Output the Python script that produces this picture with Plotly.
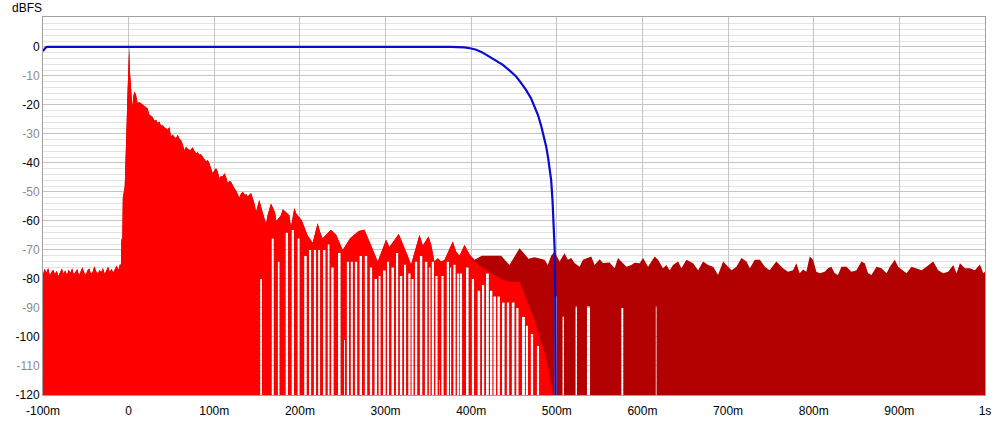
import plotly.graph_objects as go

# ---------------- data ----------------
# Impulse response level (dBFS) vs time (ms): upper envelope samples
ir_t = [-100, -98, -96, -94, -92, -90, -88, -86, -84, -82, -80, -78, -76, -74, -72, -70, -68, -66, -64, -62,
        -60, -58, -56, -54, -52, -50, -48, -46, -44, -42, -40, -38, -36, -34, -32, -30, -28, -26, -24, -22,
        -20, -18, -16, -14, -12, -10, -9, -8.5, -7.4, -6.8, -4.6, -4.0, -2.3, -1.5, -0.6, 0, 0.6, 1.4, 3.1, 4.3,
        5.5, 6.7, 8.6, 10.5, 12.5, 14.5, 16.4, 18.3, 20.3, 22.2, 24.2, 26, 28, 30, 32, 34, 35.9, 37.8, 39.8, 41.7,
        43.6, 45.5, 47.5, 49.5, 51.4, 53.4, 55.3, 57.3, 59.2, 61.2, 63.1, 65.1, 67, 69, 71.7, 73.2, 74.8, 76.7, 78.7, 80.6,
        82.6, 84.5, 86.5, 88.4, 90.4, 92.3, 94.3, 96.2, 98.2, 100.1, 102.1, 104, 106, 107.9, 109.9, 111.8, 113.8, 115.7, 117.6, 119.6,
        121.5, 123.5, 125.4, 127.4, 129.3, 131.2, 133.2, 135.9, 137.5, 139, 141, 143, 145, 146.9, 148.8, 150.7, 152.5, 154.6, 156.5, 158.5,
        160.4, 162.3, 164.3, 166.2, 168.2, 170.9, 172.5, 174, 176, 177.9, 180, 183.7, 185.6, 187.6, 189.6, 191.5, 193.5, 195.8, 198.1, 202,
        205.1, 207.1, 209, 211, 214.9, 217.6, 220.7, 223.8, 226.5, 229.7, 232.4, 234.5, 236.3, 238.4, 242.3, 246.1, 250, 252, 255.9, 258.6,
        261.7, 265.6, 268.7, 272.2, 275.3, 278, 281.1, 284.3, 287, 290.9, 294.8, 297.9, 300.6, 304.5, 308.4, 312.3, 315.4, 318.1, 322, 325.9,
        329.8, 333.7, 336.8, 339.6, 343.5, 347.4, 350.1, 353.2, 357.1, 361, 364.9, 368.8, 372.7, 375.5, 378.5, 382.4, 386.3, 389, 392.2, 395,
        398, 401, 403.9, 407.8, 410, 412.5, 415, 417.5, 420.5, 423.3, 427.2, 431.1, 435, 438.9, 441.8, 444.7, 447.5, 450.6, 453.5, 456.4,
        460.3, 464.2, 467, 470, 474, 477.9, 481.8, 485.6, 489.5, 493.4, 497.3, 500, 503.2, 509.0, 512.9, 516.8, 520.7, 522.7, 526.6, 530.5,
        536.3, 540.2, 544.1, 550.0, 553.8, 561.6, 567.5, 571.4, 576.5, 581.2, 587.0, 590.9, 596.8, 600.7, 606.5, 614.3, 618.2, 624.0, 627.9, 631.8,
        635.7, 641.6, 645.5, 651.3, 659.1, 665.0, 670.8, 676.7, 682.5, 688.3, 694.2, 698.1, 704.0, 709.8, 715.6, 721.5, 725.4, 731.2, 737.1, 742.9,
        748.5, 756.3, 764.1, 769.9, 775.8, 779.7, 783.6, 787.5, 791.4, 795.3, 799.2, 803.1, 807.0, 812.8, 816.7, 820.6, 824.5, 828.4, 832.3, 838.2,
        844.0, 849.9, 855.7, 859.6, 863.5, 867.4, 873.3, 879.1, 885.0, 888.9, 894.7, 898.6, 904.4, 908.3, 914.2, 920.0, 925.9, 931.7, 939.5, 945.3,
        951.2, 957.0, 962.9, 966.8, 970.7, 976.5, 982.4, 988.2, 994.1, 998.0, 1000]
ir_db = [-78.5, -76.5, -77.8, -76.2, -78.8, -77.5, -76.8, -78.4, -77.2, -79.0, -77.6, -76.4, -78.2, -77.0, -78.6, -76.8, -77.9, -76.3, -78.5, -77.4,
         -76.6, -78.8, -77.2, -76.0, -77.8, -78.6, -77.0, -76.4, -78.2, -77.5, -75.6, -77.3, -78.1, -76.9, -77.7, -76.2, -78.3, -77.0, -75.8, -77.6,
         -76.5, -77.9, -76.8, -75.4, -76.9, -74.8, -75.5, -66.5, -66.0, -52.0, -48.3, -40.0, -26.0, -17.6, -10.0, 0.0, 0.0, -8.0, -18.3, -20.6,
         -17.0, -15.4, -16.5, -19.4, -19.0, -19.4, -20.0, -20.3, -20.6, -21.2, -23.4, -23.8, -24.2, -25.5, -25.1, -26.2, -25.7, -27.2, -26.9, -27.8,
         -28.0, -28.6, -27.6, -30.9, -30.2, -31.1, -31.5, -30.3, -31.6, -32.2, -33.5, -35.6, -34.4, -35.1, -35.6, -35.2, -34.6, -35.8, -36.7, -36.3,
         -37.2, -37.0, -37.8, -38.8, -39.5, -39.0, -40.1, -41.8, -43.6, -42.5, -41.8, -43.0, -45.3, -44.5, -44.7, -43.6, -44.8, -47.0, -46.2, -46.5,
         -47.8, -48.7, -49.5, -51.0, -52.0, -50.5, -49.9, -51.0, -50.8, -51.6, -50.9, -50.4, -52.2, -54.0, -56.8, -54.5, -52.8, -55.0, -57.0, -59.0,
         -61.0, -58.0, -56.0, -54.0, -52.0, -57.0, -60.0, -63.0, -60.0, -58.0, -56.0, -54.5, -56.0, -58.0, -62.0, -58.0, -55.5, -57.5, -60.0, -59.7,
         -63.0, -66.0, -65.0, -66.5, -67.5, -64.0, -60.8, -64.0, -66.0, -62.0, -59.0, -60.2, -63.0, -67.6, -64.8, -65.3, -70.0, -69.5, -69.0, -66.0,
         -63.0, -66.2, -63.5, -62.8, -63.0, -66.5, -67.0, -70.0, -71.5, -74.0, -71.0, -68.0, -66.5, -69.0, -70.0, -63.0, -64.5, -72.0, -67.5, -72.0,
         -75.0, -71.0, -67.0, -64.8, -68.5, -66.0, -65.4, -68.0, -74.0, -72.9, -74.0, -73.5, -70.0, -68.5, -67.1, -70.5, -72.0, -70.0, -68.3, -69.5,
         -71.5, -72.5, -73.4, -75.0, -73.5, -72.0, -70.0, -68.3, -70.5, -72.5, -71.0, -69.4, -72.0, -74.3, -73.5, -75.2, -74.0, -72.5, -71.0, -69.4,
         -72.5, -75.2, -73.0, -71.1, -72.5, -74.3, -73.0, -73.4, -75.2, -72.0, -70.6, -71.5, -74.0, -71.1, -73.4, -72.8, -74.5, -72.8, -75.8, -73.4,
         -70.9, -72.3, -75.2, -73.2, -74.5, -74.3, -76.3, -72.8, -71.7, -75.8, -75.2, -74.4, -74.6, -72.8, -75.8, -72.3, -73.4, -76.3, -75.2, -77.0,
         -75.2, -74.0, -76.3, -73.4, -74.6, -77.0, -74.0, -75.2, -75.8, -78.6, -74.0, -75.2, -77.0, -75.8, -72.8, -74.0, -76.3, -73.4, -73.4, -75.8,
         -77.0, -74.0, -76.3, -77.5, -77.0, -74.6, -78.0, -76.7, -77.5, -72.3, -73.4, -77.5, -78.0, -77.5, -76.3, -75.8, -78.0, -78.6, -75.8, -75.8,
         -77.5, -77.0, -74.0, -74.6, -78.0, -78.6, -75.8, -76.3, -78.0, -75.8, -73.4, -75.8, -77.0, -78.0, -75.8, -76.3, -77.0, -75.8, -74.0, -77.0,
         -78.0, -77.5, -75.2, -78.0, -74.6, -76.3, -76.3, -77.0, -75.0, -78.0, -77.5]

# Windowed impulse response where the window already attenuates (ms, dBFS)
wir_t = [401, 403.9, 407.8, 410, 412.5, 415, 417.5, 420.5, 423.3, 427.2, 431.1, 435, 438.9, 441.8, 444.7, 447.5,
         450.6, 453.5, 456.4, 460.3, 464.2, 466.2, 470, 474, 477.9, 481.8, 485.6, 489.5, 493.4, 495.4]
wir_db = [-72.8, -74.0, -79.0, -77.5, -76.0, -73.0, -70.5, -73.0, -75.5, -76.0, -78.6, -80.0, -82.0, -81.5, -81.0, -82.5,
          -84.0, -82.0, -81.0, -85.0, -88.0, -89.5, -91.0, -94.0, -96.0, -102.0, -105.0, -110.0, -116.0, -120.0]
WINDOW_FROM = 400  # ms: before this the windowed IR equals the raw IR

# Deep notches (zero crossings): centre (ms), level where the notch opens (dB), width (ms)
gap_t = [154.6, 168.2, 175.2, 184.6, 191.6, 198.5, 206.5, 212.0, 217.5, 222.5, 228.5, 233.5, 238.0, 246.0, 252.0,
         256.0, 260.5, 265.6, 271.0, 277.2, 283.0, 288.5, 293.0, 298.7, 303.0, 308.4, 313.5, 318.1, 322.8, 327.9,
         331.5, 335.7, 341.5, 347.4, 351.5, 355.2, 359.5, 362.9, 366.5, 372.7, 376.0, 380.5, 384.5, 388.0, 395.5,
         402.0, 409.0, 414.0, 419.0, 423.5, 427.5, 432.0, 437.5, 443.0, 449.0, 454.0, 461.0, 465.0, 471.0, 478.0,
         498.8, 507.5, 522.7, 537.0, 576.5, 616.0]
gap_top = [-80, -66, -74, -64, -63, -66, -72, -70, -70, -70, -70, -68, -76, -71, -101,
           -74, -74, -74, -72, -72, -76, -80, -79, -77, -74, -76, -71, -79, -75, -78,
           -80, -74, -72, -74, -76, -74, -79, -114.8, -79, -74, -76, -75, -78, -78, -76,
           -80, -84, -82, -78, -84, -86, -86, -88, -88, -88, -90, -93, -96, -99, -103,
           -86, -93, -89.5, -89.5, -90, -89.5]
gap_w = [2.2, 2.8, 2.4, 3.0, 3.0, 3.0, 3.2, 2.8, 3.0, 2.6, 3.2, 2.6, 3.2, 3.4, 1.2,
         3.0, 2.8, 3.2, 3.2, 3.4, 3.2, 3.2, 2.8, 3.6, 2.8, 3.4, 3.0, 3.4, 2.8, 3.0,
         2.8, 3.2, 3.4, 3.4, 2.4, 3.0, 3.0, 1.0, 3.0, 3.0, 1.8, 3.0, 2.8, 3.2, 3.4,
         3.2, 3.6, 3.0, 3.4, 3.0, 3.4, 3.2, 3.4, 3.2, 3.6, 3.0, 3.6, 2.8, 3.2, 3.0,
         2.6, 1.6, 1.6, 3.6, 2.2, 0.9]

# Window curve (ms, dB)
win_t = [-100, -99, -98, -97, -96, -94, 376, 385, 392, 400, 406, 413, 421, 430, 437, 445, 452.5, 458, 464, 470,
         474, 478, 482, 485, 487.6, 490, 491.5, 493.4, 495, 496.5, 497.5, 498.2, 498.6]
win_db = [-1.5, -0.9, -0.5, -0.25, -0.1, 0, 0, -0.05, -0.2, -0.55, -1.0, -1.9, -3.3, -4.8, -6.2, -8.2, -10.2, -12.3, -14.8, -17.8,
          -20.6, -23.5, -27.5, -30.8, -34.4, -38.5, -42.4, -46, -53, -62, -70, -85, -120]

# Axes
x_tick_ms = [-100, 0, 100, 200, 300, 400, 500, 600, 700, 800, 900, 1000]
x_tick_text = ["-100m", "0", "100m", "200m", "300m", "400m", "500m", "600m", "700m", "800m", "900m", "1s"]
y_ticks = [0, -10, -20, -30, -40, -50, -60, -70, -80, -90, -100, -110, -120]
y_tick_text = ["0", "-10", "-20", "-30", "-40", "-50", "-60", "-70", "-80", "-90", "-100", "-110", "-120"]

FLOOR = -126.0


def build(env_t, env_db, gaps):
    """Closed polygon: envelope on top, notches cut in from the floor."""
    pts = [(t, d) for t, d in zip(env_t, env_db)
           if not any(abs(t - gt) < gw / 2 for gt, _, gw in gaps)]
    xs = [pts[0][0]] + [p[0] for p in pts] + [pts[-1][0]]
    ys = [FLOOR] + [p[1] for p in pts] + [FLOOR]
    for gt, top, gw in sorted(gaps, reverse=True):
        xs += [gt + gw / 2, gt + gw / 2, gt - gw / 2, gt - gw / 2]
        ys += [FLOOR, top, top, FLOOR]
    return xs, ys


gaps_all = list(zip(gap_t, gap_top, gap_w))
raw_x, raw_y = build(ir_t, ir_db, gaps_all)

w_env_t = [t for t in ir_t if t < WINDOW_FROM] + wir_t
w_env_db = [d for t, d in zip(ir_t, ir_db) if t < WINDOW_FROM] + wir_db
w_gaps = [g for g in gaps_all if g[0] < wir_t[-1]]
win_x, win_y = build(w_env_t, w_env_db, w_gaps)

fig = go.Figure()
fig.add_trace(go.Scatter(x=raw_x, y=raw_y, mode="lines", fill="toself",
                         fillcolor="#b30000", line=dict(color="#b30000", width=0),
                         hoverinfo="skip", showlegend=False))
fig.add_trace(go.Scatter(x=win_x, y=win_y, mode="lines", fill="toself",
                         fillcolor="#ff0000", line=dict(color="#ff0000", width=0),
                         hoverinfo="skip", showlegend=False))
fig.add_trace(go.Scatter(x=win_t, y=win_db, mode="lines",
                         line=dict(color="#0a0ad2", width=2.2),
                         hoverinfo="skip", showlegend=False))

GRAY = "#8c8c8c"
y_text_styled = [t if v % 20 == 0 else f'<span style="color:{GRAY}">{t}</span>'
                 for v, t in zip(y_ticks, y_tick_text)]

fig.update_layout(
    width=1006, height=421,
    margin=dict(l=43, r=21, t=17, b=26),
    paper_bgcolor="white", plot_bgcolor="white",
    font=dict(family="Liberation Sans, Arial, sans-serif", size=12, color="black"),
    showlegend=False,
    xaxis=dict(range=[-100, 1000], tickvals=x_tick_ms, ticktext=x_tick_text,
               showgrid=True, gridcolor="#c4c4c4", gridwidth=1, zeroline=False,
               showline=True, linecolor="#a0a0a0", linewidth=1, mirror=True,
               ticks="", ticklabelstandoff=5, automargin=False,
               tickfont=dict(size=12, color="black")),
    yaxis=dict(range=[-120, 10.3], tickvals=y_ticks, ticktext=y_text_styled,
               showgrid=True, gridcolor="#c4c4c4", gridwidth=1, zeroline=False,
               showline=True, linecolor="#a0a0a0", linewidth=1, mirror=True,
               ticks="", automargin=False, tickfont=dict(size=12, color="black"),
               minor=dict(dtick=2, showgrid=True, gridcolor="#e3e3e3", gridwidth=1)),
    annotations=[dict(text="dBFS", xref="paper", yref="paper", x=-0.035, y=1.024,
                      xanchor="left", yanchor="middle", showarrow=False,
                      font=dict(size=12, color="black"))],
)

fig.write_html("out.html", config={"displayModeBar": False},
               post_script="document.body.style.margin='0';")
